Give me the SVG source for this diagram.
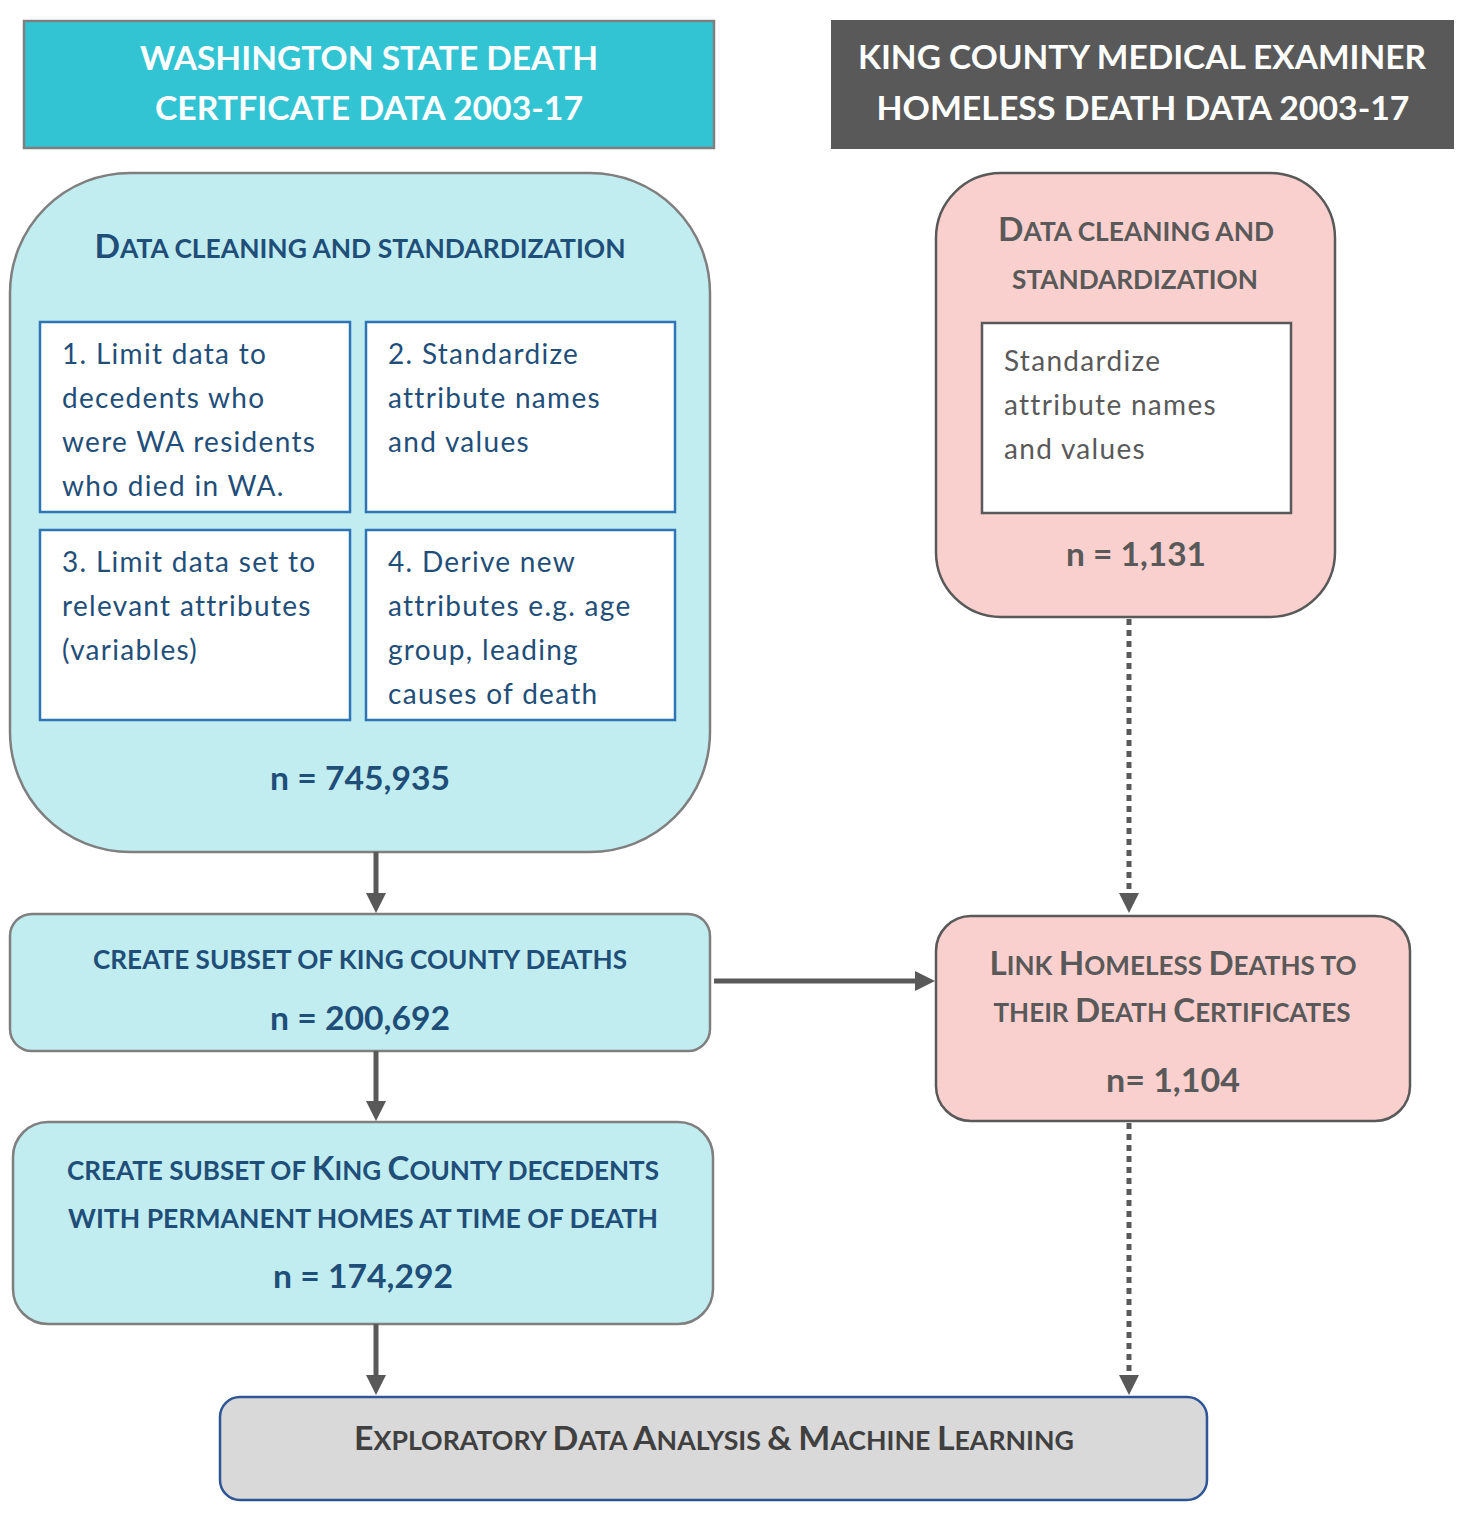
<svg xmlns="http://www.w3.org/2000/svg" width="1464" height="1515" viewBox="0 0 1464 1515">
<defs>
<style>
text{font-family:Lato,"Open Sans","Liberation Sans",sans-serif}
.hdr{fill:#fff;font-weight:700;font-size:32px;text-anchor:middle}
.blue{fill:#1F4E79}
.gray{fill:#595959}
.dark{fill:#404040}
.sc{font-weight:700;font-size:26px;text-anchor:middle}
.big{font-size:33px}
.body{font-size:28px;letter-spacing:1.3px}
.num{font-weight:700;font-size:32px;text-anchor:middle}
.cyan{fill:#C1EDF0;stroke:#7F7F7F;stroke-width:2.5}
.pink{fill:#F9D0CE;stroke:#595959;stroke-width:2.5}
.inb{fill:#fff;stroke:#2E75B6;stroke-width:2.5}
.ing{fill:#fff;stroke:#595959;stroke-width:2.5}
.con{stroke:#595959;stroke-width:5;fill:none}
.dot{stroke-dasharray:6 5}
</style>
<marker id="ah" viewBox="0 0 20 20" refX="10" refY="10" markerWidth="20" markerHeight="20" markerUnits="userSpaceOnUse" orient="auto">
<path d="M0,0 L20,10 L0,20 z" fill="#595959"/>
</marker>
</defs>
<rect width="1464" height="1515" fill="#fff"/>

<g id="hdr-left">
<rect x="24" y="21" width="690" height="127" fill="#33C4D4" stroke="#7F7F7F" stroke-width="2.5"/>
<text class="hdr" x="369" y="70" textLength="458" lengthAdjust="spacingAndGlyphs">WASHINGTON STATE DEATH</text>
<text class="hdr" x="369" y="120" textLength="428" lengthAdjust="spacingAndGlyphs">CERTFICATE DATA 2003-17</text>
</g>

<g id="hdr-right">
<rect x="831" y="20" width="623" height="129" fill="#595959"/>
<text class="hdr" x="1142" y="69" textLength="568" lengthAdjust="spacingAndGlyphs">KING COUNTY MEDICAL EXAMINER</text>
<text class="hdr" x="1143" y="120" textLength="533" lengthAdjust="spacingAndGlyphs">HOMELESS DEATH DATA 2003-17</text>
</g>

<g id="clean-left">
<rect class="cyan" x="10" y="173" width="700" height="679" rx="120" ry="120"/>
<text class="sc blue" x="360" y="258" textLength="531" lengthAdjust="spacingAndGlyphs"><tspan class="big">D</tspan>ATA CLEANING AND STANDARDIZATION</text>
<rect class="inb" x="40" y="322" width="310" height="190"/>
<text class="body blue"><tspan x="62" y="364">1. Limit data to</tspan><tspan x="62" y="408">decedents who</tspan><tspan x="62" y="452">were WA residents</tspan><tspan x="62" y="496">who died in WA.</tspan></text>
<rect class="inb" x="366" y="322" width="309" height="190"/>
<text class="body blue"><tspan x="388" y="364">2. Standardize</tspan><tspan x="388" y="408">attribute names</tspan><tspan x="388" y="452">and values</tspan></text>
<rect class="inb" x="40" y="530" width="310" height="190"/>
<text class="body blue"><tspan x="62" y="572">3. Limit data set to</tspan><tspan x="62" y="616">relevant attributes</tspan><tspan x="62" y="660">(variables)</tspan></text>
<rect class="inb" x="366" y="530" width="309" height="190"/>
<text class="body blue"><tspan x="388" y="572">4. Derive new</tspan><tspan x="388" y="616">attributes e.g. age</tspan><tspan x="388" y="660">group, leading</tspan><tspan x="388" y="704">causes of death</tspan></text>
<text class="num blue" x="360" y="790" textLength="180" lengthAdjust="spacingAndGlyphs">n = 745,935</text>
</g>

<g id="subset-king">
<rect class="cyan" x="10" y="914" width="700" height="137" rx="22" ry="22"/>
<text class="sc blue" x="360" y="969" textLength="534" lengthAdjust="spacingAndGlyphs">CREATE SUBSET OF KING COUNTY DEATHS</text>
<text class="num blue" x="360" y="1030" textLength="180" lengthAdjust="spacingAndGlyphs">n = 200,692</text>
</g>

<g id="subset-homes">
<rect class="cyan" x="13" y="1122" width="700" height="202" rx="35" ry="35"/>
<text class="sc blue" x="363" y="1180" textLength="592" lengthAdjust="spacingAndGlyphs">CREATE SUBSET OF <tspan class="big">K</tspan>ING <tspan class="big">C</tspan>OUNTY DECEDENTS</text>
<text class="sc blue" x="363" y="1228" textLength="590" lengthAdjust="spacingAndGlyphs">WITH PERMANENT HOMES AT TIME OF DEATH</text>
<text class="num blue" x="363" y="1288" textLength="180" lengthAdjust="spacingAndGlyphs">n = 174,292</text>
</g>

<g id="clean-right">
<rect class="pink" x="936" y="173" width="399" height="444" rx="65" ry="65"/>
<text class="sc gray" x="1136" y="241" textLength="276" lengthAdjust="spacingAndGlyphs"><tspan class="big">D</tspan>ATA CLEANING AND</text>
<text class="sc gray" x="1135" y="289" textLength="246" lengthAdjust="spacingAndGlyphs">STANDARDIZATION</text>
<rect class="ing" x="982" y="323" width="309" height="190"/>
<text class="body gray"><tspan x="1004" y="371">Standardize</tspan><tspan x="1004" y="415">attribute names</tspan><tspan x="1004" y="459">and values</tspan></text>
<text class="num gray" x="1136" y="566" textLength="140" lengthAdjust="spacingAndGlyphs">n = 1,131</text>
</g>

<g id="link">
<rect class="pink" x="936" y="916" width="474" height="205" rx="35" ry="35"/>
<text class="sc gray" x="1173" y="975" textLength="367" lengthAdjust="spacingAndGlyphs"><tspan class="big">L</tspan>INK <tspan class="big">H</tspan>OMELESS <tspan class="big">D</tspan>EATHS TO</text>
<text class="sc gray" x="1172" y="1022" textLength="357" lengthAdjust="spacingAndGlyphs">THEIR <tspan class="big">D</tspan>EATH <tspan class="big">C</tspan>ERTIFICATES</text>
<text class="num gray" x="1173" y="1092" textLength="134" lengthAdjust="spacingAndGlyphs">n= 1,104</text>
</g>

<g id="eda">
<rect x="220" y="1397" width="987" height="103" rx="20" ry="20" fill="#D9D9D9" stroke="#2F5597" stroke-width="2.5"/>
<text class="sc dark" x="714" y="1450" textLength="720" lengthAdjust="spacingAndGlyphs"><tspan class="big">E</tspan>XPLORATORY <tspan class="big">D</tspan>ATA <tspan class="big">A</tspan>NALYSIS <tspan class="big">&amp;</tspan> <tspan class="big">M</tspan>ACHINE <tspan class="big">L</tspan>EARNING</text>
</g>

<g id="connectors">
<line class="con" x1="376" y1="852" x2="376" y2="903" marker-end="url(#ah)"/>
<line class="con" x1="376" y1="1051" x2="376" y2="1111" marker-end="url(#ah)"/>
<line class="con" x1="376" y1="1324" x2="376" y2="1385" marker-end="url(#ah)"/>
<line class="con" x1="714" y1="981" x2="925" y2="981" marker-end="url(#ah)"/>
<line class="con dot" x1="1129" y1="619" x2="1129" y2="903" marker-end="url(#ah)"/>
<line class="con dot" x1="1129" y1="1123" x2="1129" y2="1385" marker-end="url(#ah)"/>
</g>
</svg>
